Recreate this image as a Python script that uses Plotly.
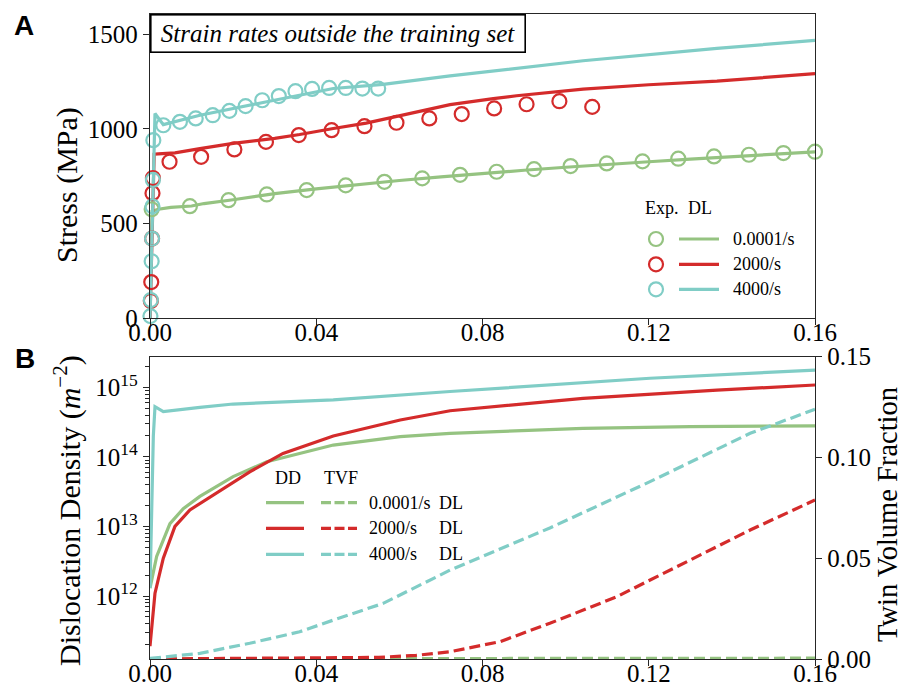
import plotly.graph_objects as go

# ---------------- data ----------------
rates = ["0.0001/s", "2000/s", "4000/s"]
colors = ["#95C381", "#D42B2B", "#80CDC6"]

# Panel A: experimental stress-strain (circles)
green_exp_x = [0.0004, 0.0096, 0.0189, 0.0281, 0.0377, 0.0471, 0.0564, 0.0655, 0.0746, 0.0834,
               0.0924, 0.1012, 0.1099, 0.1185, 0.1271, 0.1357, 0.1441, 0.1524, 0.1600]
green_exp_y = [575, 591, 623, 653, 676, 701, 720, 738, 757, 773,
               787, 803, 817, 828, 842, 854, 863, 872, 879]
red_exp_x = [0.0002, 0.0003, 0.0005, 0.0006, 0.0007, 0.0047, 0.0123, 0.0203, 0.0279, 0.0358,
             0.0437, 0.0516, 0.0593, 0.0672, 0.0750, 0.0828, 0.0906, 0.0985, 0.1064]
red_exp_y = [90, 190, 420, 660, 740, 826, 852, 891, 931, 967,
             993, 1014, 1032, 1055, 1078, 1108, 1130, 1146, 1116]
teal_exp_x = [0.0001, 0.0002, 0.0004, 0.0005, 0.0006, 0.0007, 0.0008, 0.0032, 0.0072, 0.0110,
              0.0151, 0.0191, 0.0230, 0.0270, 0.0310, 0.0350, 0.0390, 0.0431, 0.0471, 0.0511, 0.0549]
teal_exp_y = [10, 95, 300, 420, 590, 730, 940, 1019, 1037, 1055,
              1072, 1095, 1120, 1151, 1173, 1199, 1211, 1216, 1216, 1213, 1213]

# Panel A: DL predictions (lines)
green_dl_x = [0, 0.0005, 0.002, 0.005, 0.010, 0.013, 0.020, 0.030, 0.040, 0.050, 0.060,
              0.070, 0.080, 0.090, 0.100, 0.110, 0.120, 0.130, 0.140, 0.150, 0.160]
green_dl_y = [0, 565, 575, 585, 592, 605, 625, 657, 683, 707, 727,
              746, 765, 781, 797, 813, 826, 840, 852, 866, 878]
red_dl_x = [0, 0.001, 0.002, 0.006, 0.012, 0.020, 0.030, 0.036, 0.0441, 0.052, 0.0602,
            0.0674, 0.0722, 0.0826, 0.0882, 0.1042, 0.120, 0.1364, 0.150, 0.160]
red_dl_y = [0, 866, 868, 873, 895, 923, 950, 970, 1002, 1030, 1070,
            1106, 1128, 1160, 1175, 1210, 1233, 1252, 1274, 1292]
teal_dl_x = [0, 0.0012, 0.0032, 0.012, 0.0281, 0.0441, 0.0561, 0.0722, 0.1042, 0.1364, 0.160]
teal_dl_y = [0, 1081, 1022, 1072, 1143, 1213, 1235, 1280, 1360, 1425, 1468]

# Panel B: dislocation density (solid, log axis)
green_dd_x = [0, 0.0016, 0.0048, 0.008, 0.012, 0.020, 0.0281, 0.0441, 0.0602, 0.0722, 0.1042, 0.130, 0.160]
green_dd_y = [1.3e12, 3.7e12, 1.1e13, 1.8e13, 2.7e13, 5.2e13, 8.5e13, 1.48e14, 1.95e14, 2.18e14, 2.57e14, 2.72e14, 2.8e14]
red_dd_x = [0, 0.0012, 0.0032, 0.006, 0.0096, 0.016, 0.024, 0.032, 0.0441, 0.0602, 0.0722, 0.1042, 0.1364, 0.160]
red_dd_y = [1.9e11, 1.1e12, 3.5e12, 1.0e13, 1.73e13, 3.0e13, 6.1e13, 1.12e14, 2.0e14, 3.39e14, 4.6e14, 6.95e14, 9.1e14, 1.08e15]
teal_dd_x = [0, 0.0008, 0.0012, 0.0032, 0.012, 0.020, 0.0441, 0.0722, 0.1203, 0.160]
teal_dd_y = [1.3e12, 2.0e14, 5.27e14, 4.46e14, 5.16e14, 5.75e14, 6.58e14, 8.7e14, 1.35e15, 1.77e15]

# Panel B: twin volume fraction (dashed, right axis)
green_tvf_x = [0, 0.04, 0.08, 0.12, 0.16]
green_tvf_y = [0.0001, 0.0002, 0.0003, 0.0003, 0.0004]
red_tvf_x = [0, 0.02, 0.04, 0.055, 0.064, 0.0722, 0.0842, 0.0962, 0.1123, 0.1283, 0.1444, 0.160]
red_tvf_y = [0.0, 0.0002, 0.0004, 0.0008, 0.0018, 0.0036, 0.0086, 0.0177, 0.0309, 0.0475, 0.064, 0.0789]
teal_tvf_x = [0, 0.012, 0.024, 0.036, 0.0441, 0.0561, 0.0722, 0.0962, 0.1203, 0.1444, 0.160]
teal_tvf_y = [0.0003, 0.0028, 0.0078, 0.0135, 0.0193, 0.0276, 0.0441, 0.065, 0.088, 0.112, 0.1239]

x_ticks = [0, 0.04, 0.08, 0.12, 0.16]
stress_ticks = [0, 500, 1000, 1500]
dd_exps = [12, 13, 14, 15]
tvf_ticks = [0, 0.05, 0.10, 0.15]

# ---------------- figure ----------------
W, H = 902, 691
SERIF = "Liberation Serif"
DASH = "11px,5px"


def px(x):
    return x / W


def py(y):
    return 1 - y / H


fig = go.Figure()

exp_sets = [(green_exp_x, green_exp_y), (red_exp_x, red_exp_y), (teal_exp_x, teal_exp_y)]
dl_sets = [(green_dl_x, green_dl_y), (red_dl_x, red_dl_y), (teal_dl_x, teal_dl_y)]
for (xx, yy), c in zip(dl_sets, colors):
    fig.add_trace(go.Scatter(x=xx, y=yy, mode="lines", line=dict(color=c, width=3.2),
                             xaxis="x", yaxis="y", showlegend=False))
for (xx, yy), c in zip(exp_sets, colors):
    fig.add_trace(go.Scatter(x=xx, y=yy, mode="markers",
                             marker=dict(symbol="circle-open", size=14, color=c, line=dict(width=2.2, color=c)),
                             xaxis="x", yaxis="y", showlegend=False, cliponaxis=False))

dd_sets = [(green_dd_x, green_dd_y), (red_dd_x, red_dd_y), (teal_dd_x, teal_dd_y)]
tvf_sets = [(green_tvf_x, green_tvf_y), (red_tvf_x, red_tvf_y), (teal_tvf_x, teal_tvf_y)]
for (xx, yy), c in zip(dd_sets, colors):
    fig.add_trace(go.Scatter(x=xx, y=yy, mode="lines", line=dict(color=c, width=3.2),
                             xaxis="x2", yaxis="y2", showlegend=False))
for (xx, yy), c in zip(tvf_sets, colors):
    fig.add_trace(go.Scatter(x=xx, y=yy, mode="lines", line=dict(color=c, width=3.2, dash=DASH),
                             xaxis="x2", yaxis="y3", showlegend=False))

axis_common = dict(showline=True, linecolor="#262626", linewidth=1.3, ticks="outside",
                   ticklen=6, tickwidth=1.3, tickcolor="#262626", showgrid=False, zeroline=False,
                   automargin=False,
                   tickfont=dict(family=SERIF, size=25, color="black"))

xdom = [px(150), px(815)]
fig.update_layout(
    template="none",
    width=W, height=H, margin=dict(l=0, r=0, t=0, b=0, pad=0, autoexpand=False),
    paper_bgcolor="white", plot_bgcolor="white", showlegend=False,
    font=dict(family=SERIF, color="black"),
    xaxis=dict(domain=xdom, range=[0, 0.16], tickvals=x_ticks, tickformat=".2f",
               mirror=True, anchor="y", ticklabelstandoff=-14, **axis_common),
    yaxis=dict(domain=[py(318), py(14)], range=[0, 1607], tickvals=stress_ticks,
               mirror=True, anchor="x", **axis_common),
    xaxis2=dict(domain=xdom, range=[0, 0.16], tickvals=x_ticks, tickformat=".2f",
                mirror=True, anchor="y2", ticklabelstandoff=-14, **axis_common),
    yaxis2=dict(domain=[py(659), py(356.7)], type="log", range=[11.095, 15.44],
                tickvals=[10 ** e for e in dd_exps],
                ticktext=["10<sup>%d</sup>" % e for e in dd_exps],
                minor=dict(ticks="outside", ticklen=3.5, tickwidth=1, tickcolor="#262626", dtick="D1", showgrid=False),
                anchor="x2", **axis_common),
    yaxis3=dict(overlaying="y2", side="right", range=[0, 0.15], tickvals=tvf_ticks,
                tickformat=".2f", anchor="x2", **axis_common),
)

ann = []
shapes = []


def note(text, x, y, size, xanchor="center", yanchor="middle", **kw):
    ann.append(dict(text=text, x=px(x), y=py(y), xref="paper", yref="paper", showarrow=False,
                    xanchor=xanchor, yanchor=yanchor,
                    font=kw.pop("font", dict(family=SERIF, size=size, color="black")), **kw))


# panel letters
note("<b>A</b>", 23.5, 25, 28, font=dict(family="Liberation Sans", size=28, color="black"))
note("<b>B</b>", 25, 358, 28, font=dict(family="Liberation Sans", size=28, color="black"))
# axis titles
note("Stress (MPa)", 67, 185, 30, textangle=-90)
note("Dislocation Density (<i>m</i><sup>\u22122</sup>)", 67, 511, 30, textangle=-90)
note("Twin Volume Fraction", 887, 515, 28.5, textangle=-90)
# title box
note("<i>Strain rates outside the training set</i>", 150, 14, 25, xanchor="left", yanchor="top",
     width=371, height=34, borderpad=1, borderwidth=1.6, bordercolor="black", bgcolor="white")

# legend A
note("Exp.", 643, 208, 18, xanchor="left")
note("DL", 686, 208, 18, xanchor="left")
rowsA = [239, 264.3, 289.3]
for r, c, lab in zip(rowsA, colors, rates):
    shapes.append(dict(type="circle", xref="paper", yref="paper", xsizemode="pixel", ysizemode="pixel",
                       xanchor=px(656), yanchor=py(r), x0=-7, x1=7, y0=-7, y1=7,
                       line=dict(color=c, width=2.2)))
    shapes.append(dict(type="line", xref="paper", yref="paper", x0=px(679), x1=px(719),
                       y0=py(r), y1=py(r), line=dict(color=c, width=3.2)))
    note(lab, 731, r, 18, xanchor="left")

# legend B
note("DD", 273, 478, 18, xanchor="left")
note("TVF", 321.5, 478, 18, xanchor="left")
rowsB = [502.7, 528.3, 554.3]
for r, c, lab in zip(rowsB, colors, rates):
    shapes.append(dict(type="line", xref="paper", yref="paper", x0=px(266), x1=px(304),
                       y0=py(r), y1=py(r), line=dict(color=c, width=3.2)))
    shapes.append(dict(type="line", xref="paper", yref="paper", x0=px(321), x1=px(357),
                       y0=py(r), y1=py(r), line=dict(color=c, width=3.2, dash="10px,3.5px")))
    note(lab, 367, r, 18, xanchor="left")
    note("DL", 437, r, 18, xanchor="left")

fig.update_layout(annotations=ann, shapes=shapes)
fig.write_html("out.html")
